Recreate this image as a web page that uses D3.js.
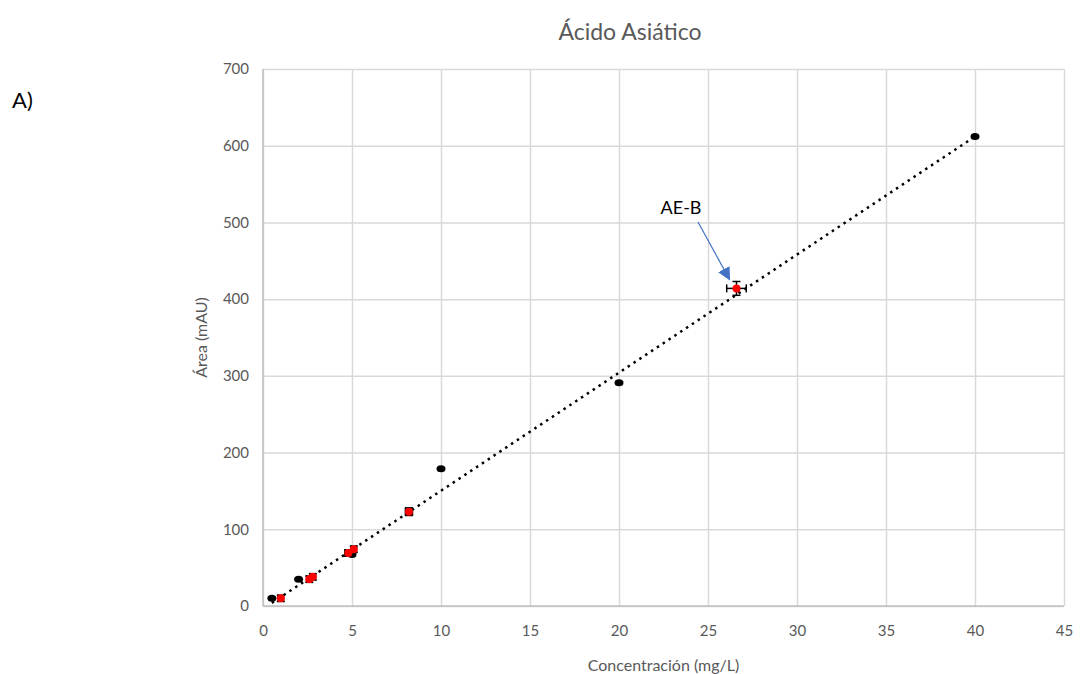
<!DOCTYPE html>
<html>
<head>
<meta charset="utf-8">
<script src="https://cdn.jsdelivr.net/npm/d3@7"></script>
<style>
  body { margin: 0; background: #fff; }
  svg { font-family: Lato, "Open Sans", sans-serif; }
</style>
</head>
<body>
<svg width="1081" height="674"></svg>
<script>
// calibration standards (black)
const stdX = [0.5, 2, 5, 10, 20, 40];
const stdY = [10, 35, 67, 179, 291, 612];

// samples (red) with error bars
const smpX = [1.0, 2.6, 2.8, 4.8, 5.1, 8.2, 26.6];
const smpY = [10, 35, 38, 69, 74, 123, 414];
const smpErrX = [0.15, 0.15, 0.15, 0.2, 0.15, 0.2, 0.55];
const smpErrY = [4, 4, 4, 4, 4, 5, 9];

// dotted trend line ends
const trendX = [0.5, 40];
const trendY = [4, 612];

const xTicks = [0, 5, 10, 15, 20, 25, 30, 35, 40, 45];
const yTicks = [0, 100, 200, 300, 400, 500, 600, 700];

const svg = d3.select("svg");
const margin = { left: 263, right: 1064, top: 69, bottom: 606 };

const x = d3.scaleLinear().domain([0, 45]).range([margin.left, margin.right]);
const y = d3.scaleLinear().domain([0, 700]).range([margin.bottom, margin.top]);

// gridlines
svg.append("g")
  .attr("transform", `translate(0,${margin.bottom})`)
  .call(d3.axisBottom(x).tickValues(xTicks).tickSize(-(margin.bottom - margin.top)).tickFormat(""))
  .call(g => g.select(".domain").remove())
  .call(g => g.selectAll("line").attr("stroke", "#d9d9d9").attr("stroke-width", 1.5));

svg.append("g")
  .attr("transform", `translate(${margin.left},0)`)
  .call(d3.axisLeft(y).tickValues(yTicks).tickSize(-(margin.right - margin.left)).tickFormat(""))
  .call(g => g.select(".domain").remove())
  .call(g => g.selectAll("line").attr("stroke", "#d9d9d9").attr("stroke-width", 1.5));

// axis lines
svg.append("line")
  .attr("x1", x(0)).attr("x2", x(45)).attr("y1", y(0)).attr("y2", y(0))
  .attr("stroke", "#bfbfbf").attr("stroke-width", 1.5);
svg.append("line")
  .attr("x1", x(0)).attr("x2", x(0)).attr("y1", y(0)).attr("y2", y(700))
  .attr("stroke", "#bfbfbf").attr("stroke-width", 1.5);

// tick labels
svg.append("g")
  .attr("transform", `translate(0,${margin.bottom})`)
  .call(d3.axisBottom(x).tickValues(xTicks).tickSize(0).tickPadding(19))
  .call(g => g.select(".domain").remove())
  .call(g => g.selectAll("text").attr("fill", "#595959").style("font-size", "15px").style("font-family", "Lato, sans-serif"));

svg.append("g")
  .attr("transform", `translate(${margin.left},0)`)
  .call(d3.axisLeft(y).tickValues(yTicks).tickSize(0).tickPadding(14))
  .call(g => g.select(".domain").remove())
  .call(g => g.selectAll("text").attr("fill", "#595959").style("font-size", "15px").style("font-family", "Lato, sans-serif"));

// trend line
svg.append("line")
  .attr("x1", x(trendX[0])).attr("y1", y(trendY[0]))
  .attr("x2", x(trendX[1])).attr("y2", y(trendY[1]))
  .attr("stroke", "#000").attr("stroke-width", 2.5)
  .attr("stroke-dasharray", "2.5,4.5");

// standards
const stds = stdX.map((v, i) => ({ x: v, y: stdY[i] }));
svg.append("g").selectAll("ellipse")
  .data(stds)
  .join("ellipse")
  .attr("cx", d => x(d.x)).attr("cy", d => y(d.y))
  .attr("rx", 4.5).attr("ry", 3.5)
  .attr("fill", "#000");

// samples with error bars
const smps = smpX.map((v, i) => ({ x: v, y: smpY[i], ex: smpErrX[i], ey: smpErrY[i] }));
const eb = svg.append("g").attr("stroke", "#000").attr("stroke-width", 1.5);
smps.forEach(d => {
  const cx = x(d.x), cy = y(d.y);
  const x0 = x(d.x - d.ex), x1 = x(d.x + d.ex);
  const y0 = y(d.y - d.ey), y1 = y(d.y + d.ey);
  eb.append("line").attr("x1", x0).attr("x2", x1).attr("y1", cy).attr("y2", cy);
  eb.append("line").attr("x1", x0).attr("x2", x0).attr("y1", cy - 4).attr("y2", cy + 4);
  eb.append("line").attr("x1", x1).attr("x2", x1).attr("y1", cy - 4).attr("y2", cy + 4);
  eb.append("line").attr("x1", cx).attr("x2", cx).attr("y1", y0).attr("y2", y1);
  eb.append("line").attr("x1", cx - 4).attr("x2", cx + 4).attr("y1", y0).attr("y2", y0);
  eb.append("line").attr("x1", cx - 4).attr("x2", cx + 4).attr("y1", y1).attr("y2", y1);
});
svg.append("g").selectAll("circle")
  .data(smps)
  .join("circle")
  .attr("cx", d => x(d.x)).attr("cy", d => y(d.y))
  .attr("r", 4)
  .attr("fill", "#ff0000");

// annotation arrow
svg.append("defs").append("marker")
  .attr("id", "arrow")
  .attr("viewBox", "0 0 10 10")
  .attr("refX", 9).attr("refY", 5)
  .attr("markerUnits", "userSpaceOnUse")
  .attr("markerWidth", 13).attr("markerHeight", 13)
  .attr("orient", "auto")
  .append("path").attr("d", "M0,0 L10,5 L0,10 Z").attr("fill", "#4472c4");

const ae = smps[smps.length - 1];
svg.append("line")
  .attr("x1", 698).attr("y1", 222)
  .attr("x2", x(ae.x) - 7).attr("y2", y(ae.y) - 9)
  .attr("stroke", "#4472c4").attr("stroke-width", 1.2)
  .attr("marker-end", "url(#arrow)");

svg.append("text")
  .attr("x", 681).attr("y", 214)
  .attr("text-anchor", "middle")
  .attr("fill", "#000")
  .style("font-size", "18px")
  .text("AE-B");

// titles
svg.append("text")
  .attr("x", 630).attr("y", 40)
  .attr("text-anchor", "middle")
  .attr("fill", "#595959")
  .style("font-size", "23px")
  .text("Ácido Asiático");

svg.append("text")
  .attr("x", 12).attr("y", 108)
  .attr("fill", "#000")
  .style("font-size", "22px")
  .text("A)");

svg.append("text")
  .attr("transform", `translate(207,${(margin.top + margin.bottom) / 2}) rotate(-90)`)
  .attr("text-anchor", "middle")
  .attr("fill", "#595959")
  .style("font-size", "16px")
  .text("Área (mAU)");

svg.append("text")
  .attr("x", (margin.left + margin.right) / 2).attr("y", 671)
  .attr("text-anchor", "middle")
  .attr("fill", "#595959")
  .style("font-size", "16px")
  .text("Concentración (mg/L)");
</script>
</body>
</html>
